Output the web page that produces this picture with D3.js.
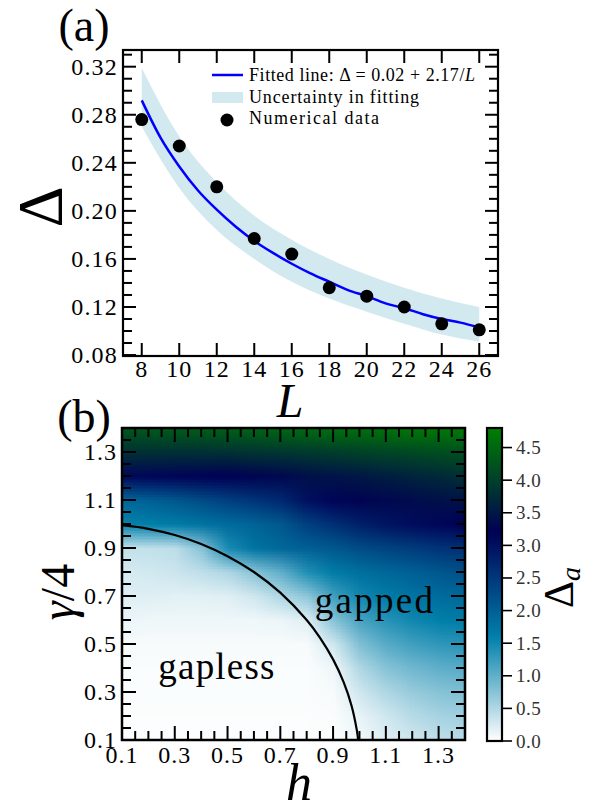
<!DOCTYPE html>
<html>
<head>
<meta charset="utf-8">
<script src="https://cdn.jsdelivr.net/npm/d3@7"></script>
<style>
  body { margin: 0; background: #fff; }
  text { font-family: "Liberation Serif", "DejaVu Serif", serif; fill: #000; }
</style>
</head>
<body>
<svg id="fig" width="600" height="812"></svg>
<script>
// ---------- panel (a) data ----------
const sizesL = [8, 10, 12, 14, 16, 18, 20, 22, 24, 26];
const gapNum = [0.276, 0.254, 0.220, 0.177, 0.164, 0.136, 0.129, 0.120, 0.106, 0.101];
const fitL = [8, 9, 10, 11, 12, 13, 14, 15, 16, 17, 18, 19, 20, 21, 22, 23, 24, 25, 26];
const fitVal = [0.292, 0.261, 0.237, 0.217, 0.201, 0.187, 0.175, 0.165, 0.156, 0.148,
                0.141, 0.134, 0.129, 0.123, 0.119, 0.114, 0.110, 0.107, 0.103];
const bandUpper = [0.319, 0.262, 0.224, 0.196, 0.176, 0.160, 0.147, 0.136, 0.127, 0.120];
const bandLower = [0.270, 0.219, 0.184, 0.160, 0.141, 0.127, 0.116, 0.106, 0.097, 0.091];
const xTicksA = [8, 10, 12, 14, 16, 18, 20, 22, 24, 26];
const yTicksA = [0.08, 0.12, 0.16, 0.20, 0.24, 0.28, 0.32];

// ---------- panel (b) data ----------
const hVals = [0.1, 0.2, 0.3, 0.4, 0.5, 0.6, 0.7, 0.8, 0.9, 1.0, 1.1, 1.2, 1.3, 1.4];
const gVals = [0.1, 0.2, 0.3, 0.4, 0.5, 0.6, 0.7, 0.8, 0.9, 1.0, 1.1, 1.2, 1.3, 1.4];
// rows follow gVals (bottom to top), columns follow hVals
const deltaA = [
  [0.02, 0.02, 0.02, 0.02, 0.02, 0.02, 0.02, 0.02, 0.02, 0.08, 0.20, 0.30, 0.40, 0.45],
  [0.02, 0.02, 0.02, 0.02, 0.02, 0.02, 0.02, 0.02, 0.03, 0.15, 0.30, 0.45, 0.55, 0.60],
  [0.03, 0.03, 0.03, 0.03, 0.03, 0.03, 0.03, 0.03, 0.05, 0.30, 0.50, 0.65, 0.75, 0.80],
  [0.03, 0.03, 0.03, 0.03, 0.03, 0.03, 0.03, 0.03, 0.10, 0.50, 0.75, 0.90, 1.00, 1.05],
  [0.05, 0.05, 0.05, 0.05, 0.05, 0.05, 0.05, 0.05, 0.30, 0.80, 1.05, 1.20, 1.30, 1.35],
  [0.12, 0.10, 0.10, 0.10, 0.10, 0.10, 0.12, 0.20, 0.75, 1.15, 1.35, 1.50, 1.60, 1.65],
  [0.20, 0.20, 0.18, 0.18, 0.20, 0.30, 0.50, 0.70, 1.20, 1.50, 1.65, 1.75, 1.85, 1.90],
  [0.25, 0.28, 0.32, 0.40, 0.50, 0.75, 1.00, 1.40, 1.65, 1.80, 1.90, 2.00, 2.10, 2.20],
  [0.38, 0.38, 0.42, 0.75, 1.45, 1.75, 1.90, 2.00, 2.10, 2.25, 2.35, 2.45, 2.55, 2.60],
  [1.55, 1.60, 1.65, 1.75, 1.85, 1.95, 2.10, 2.40, 2.60, 2.80, 2.95, 3.05, 3.12, 3.20],
  [1.90, 2.00, 2.10, 2.25, 2.40, 2.55, 2.70, 3.00, 3.15, 3.25, 3.30, 3.35, 3.40, 3.45],
  [3.10, 3.12, 3.15, 3.18, 3.20, 3.25, 3.30, 3.40, 3.45, 3.50, 3.58, 3.65, 3.72, 3.80],
  [3.80, 3.80, 3.80, 3.80, 3.82, 3.85, 3.88, 3.92, 3.97, 4.02, 4.07, 4.12, 4.17, 4.20],
  [4.30, 4.32, 4.35, 4.38, 4.40, 4.45, 4.50, 4.55, 4.60, 4.62, 4.65, 4.70, 4.72, 4.75]
];
// phase boundary between gapless and gapped
const boundaryH = [0.1, 0.2, 0.3, 0.4, 0.5, 0.6, 0.7, 0.8, 0.85, 0.9, 0.94, 0.97, 0.99, 0.995];
const boundaryG = [0.995, 0.98, 0.954, 0.917, 0.866, 0.8, 0.714, 0.6, 0.527, 0.436, 0.341, 0.243, 0.141, 0.1];
const ticksB = [0.1, 0.3, 0.5, 0.7, 0.9, 1.1, 1.3];
const cbTicks = [0.0, 0.5, 1.0, 1.5, 2.0, 2.5, 3.0, 3.5, 4.0, 4.5];

const svg = d3.select('#fig');
const bandColor = 'rgb(211,233,240)';

// inside ticks on all four sides of a box
function boxTicks(g, xs, ys, xMaj, xMin, yMaj, yMin, lenMaj, lenMin) {
  const [x0, x1] = xs.range();
  const [y0, y1] = ys.range(); // y0 bottom, y1 top
  const add = (vals, len, horiz) => {
    vals.forEach(v => {
      if (horiz) {
        const x = xs(v);
        g.append('line').attr('x1', x).attr('x2', x).attr('y1', y0).attr('y2', y0 - len);
        g.append('line').attr('x1', x).attr('x2', x).attr('y1', y1).attr('y2', y1 + len);
      } else {
        const y = ys(v);
        g.append('line').attr('x1', x0).attr('x2', x0 + len).attr('y1', y).attr('y2', y);
        g.append('line').attr('x1', x1).attr('x2', x1 - len).attr('y1', y).attr('y2', y);
      }
    });
  };
  add(xMaj, lenMaj, true); add(xMin, lenMin, true);
  add(yMaj, lenMaj, false); add(yMin, lenMin, false);
  g.selectAll('line').attr('stroke', '#000').attr('stroke-width', 2);
}

// ================= panel (a) =================
const xa = d3.scaleLinear().domain([7, 27]).range([123, 498]);
const ya = d3.scaleLinear().domain([0.0792, 0.3339]).range([356, 50]);

const pa = svg.append('g');
const band = sizesL.map((L, i) => ({ L, lo: bandLower[i], hi: bandUpper[i] }));
pa.append('path')
  .datum(band)
  .attr('d', d3.area().x(d => xa(d.L)).y0(d => ya(d.lo)).y1(d => ya(d.hi)).curve(d3.curveMonotoneX))
  .attr('fill', bandColor);

pa.append('path')
  .datum(fitL.map((L, i) => [L, fitVal[i]]))
  .attr('d', d3.line().x(d => xa(d[0])).y(d => ya(d[1])).curve(d3.curveMonotoneX))
  .attr('fill', 'none').attr('stroke', '#0000ff').attr('stroke-width', 2.5);

pa.selectAll('circle.pt')
  .data(sizesL.map((L, i) => [L, gapNum[i]]))
  .enter().append('circle')
  .attr('class', 'pt')
  .attr('cx', d => xa(d[0])).attr('cy', d => ya(d[1])).attr('r', 6.5)
  .attr('fill', '#000');

const yMinorA = d3.range(0.09, 0.335, 0.01).filter(v => yTicksA.every(t => Math.abs(t - v) > 1e-6));
boxTicks(pa.append('g'), xa, ya, xTicksA, [], yTicksA, yMinorA, 13, 9);

pa.append('rect').attr('x', 123).attr('y', 50).attr('width', 375).attr('height', 306)
  .attr('fill', 'none').attr('stroke', '#000').attr('stroke-width', 2.2);

pa.selectAll('text.yt').data(yTicksA).enter().append('text')
  .attr('x', 118).attr('y', d => ya(d) + 8)
  .attr('text-anchor', 'end').attr('font-size', 24).attr('letter-spacing', 1.2)
  .text(d => d.toFixed(2));
pa.selectAll('text.xt').data(xTicksA).enter().append('text')
  .attr('x', d => xa(d)).attr('y', 377)
  .attr('text-anchor', 'middle').attr('font-size', 24).attr('letter-spacing', 1)
  .text(d => d);

// legend
const lg = pa.append('g');
lg.append('line').attr('x1', 212).attr('x2', 243).attr('y1', 75).attr('y2', 75)
  .attr('stroke', '#0000ff').attr('stroke-width', 2.5);
lg.append('rect').attr('x', 212).attr('y', 92).attr('width', 31).attr('height', 11).attr('fill', bandColor);
lg.append('circle').attr('cx', 227).attr('cy', 120).attr('r', 6.5).attr('fill', '#000');
const legText = lg.append('g').attr('font-size', 18);
const t1 = legText.append('text').attr('x', 249).attr('y', 81)
  .attr('textLength', 226).attr('lengthAdjust', 'spacing');
t1.append('tspan').text('Fitted line: Δ = 0.02 + 2.17/');
t1.append('tspan').attr('font-style', 'italic').text('L');
legText.append('text').attr('x', 249).attr('y', 103)
  .attr('textLength', 170).attr('lengthAdjust', 'spacing').text('Uncertainty in fitting');
legText.append('text').attr('x', 249).attr('y', 124)
  .attr('textLength', 130).attr('lengthAdjust', 'spacing').text('Numerical data');

// labels
svg.append('text').attr('x', 84).attr('y', 41).attr('text-anchor', 'middle')
  .attr('font-size', 46).text('(a)');
svg.append('text').attr('transform', 'translate(62,207) rotate(-90)')
  .attr('text-anchor', 'middle').attr('font-size', 64).text('Δ');
svg.append('text').attr('x', 290).attr('y', 417).attr('text-anchor', 'middle')
  .attr('font-size', 48).attr('font-style', 'italic').text('L');

// ================= panel (b) =================
const xb = d3.scaleLinear().domain([0.1, 1.4]).range([122, 465]);
const yb = d3.scaleLinear().domain([0.1, 1.4]).range([740, 428]);

// matplotlib "ocean", reversed
function ocean(t) {
  const r = Math.max(0, Math.min(1, 3 * t - 2));
  const g = Math.min(1, Math.abs((3 * t - 1) / 2));
  return d3.rgb(r * 255, g * 255, t * 255).toString();
}
const color = d3.scaleSequential(t => ocean(1 - t)).domain([0, 4.8]);

const pb = svg.append('g');
svg.append('defs').append('clipPath').attr('id', 'clipB')
  .append('rect').attr('x', 122).attr('y', 428).attr('width', 343).attr('height', 312);

// one pixel per cell, smoothed on upscaling (like imshow bilinear)
const nx = hVals.length, ny = gVals.length;
const small = document.createElement('canvas');
small.width = nx; small.height = ny;
const sctx = small.getContext('2d');
const img = sctx.createImageData(nx, ny);
gVals.forEach((g, j) => hVals.forEach((h, i) => {
  const c = d3.rgb(color(deltaA[j][i]));
  const k = ((ny - 1 - j) * nx + i) * 4;
  img.data[k] = c.r; img.data[k + 1] = c.g; img.data[k + 2] = c.b; img.data[k + 3] = 255;
}));
sctx.putImageData(img, 0, 0);

const hStep = hVals[1] - hVals[0], gStep = gVals[1] - gVals[0];
const ix0 = xb(hVals[0] - hStep / 2), ix1 = xb(hVals[nx - 1] + hStep / 2);
const iy0 = yb(gVals[ny - 1] + gStep / 2), iy1 = yb(gVals[0] - gStep / 2);
const big = document.createElement('canvas');
big.width = Math.round(ix1 - ix0); big.height = Math.round(iy1 - iy0);
const bctx = big.getContext('2d');
bctx.imageSmoothingEnabled = true;
bctx.imageSmoothingQuality = 'low';
bctx.drawImage(small, 0, 0, big.width, big.height);

pb.append('image')
  .attr('href', big.toDataURL())
  .attr('x', ix0).attr('y', iy0).attr('width', ix1 - ix0).attr('height', iy1 - iy0)
  .attr('preserveAspectRatio', 'none')
  .attr('clip-path', 'url(#clipB)');

pb.append('path')
  .datum(boundaryH.map((h, i) => [h, boundaryG[i]]))
  .attr('d', d3.line().x(d => xb(d[0])).y(d => yb(d[1])).curve(d3.curveCatmullRom))
  .attr('fill', 'none').attr('stroke', '#000').attr('stroke-width', 2.2)
  .attr('clip-path', 'url(#clipB)');

const minorB = d3.range(0.15, 1.41, 0.05).filter(v => ticksB.every(t => Math.abs(t - v) > 1e-6));
boxTicks(pb.append('g'), xb, yb, ticksB, minorB, ticksB, minorB, 14, 9);

pb.append('rect').attr('x', 122).attr('y', 428).attr('width', 343).attr('height', 312)
  .attr('fill', 'none').attr('stroke', '#000').attr('stroke-width', 2.5);

pb.selectAll('text.yt').data(ticksB).enter().append('text')
  .attr('x', 117).attr('y', d => yb(d) + 8)
  .attr('text-anchor', 'end').attr('font-size', 24).attr('letter-spacing', 1)
  .text(d => d.toFixed(1));
pb.selectAll('text.xt').data(ticksB).enter().append('text')
  .attr('x', d => xb(d)).attr('y', 763)
  .attr('text-anchor', 'middle').attr('font-size', 24).attr('letter-spacing', 1)
  .text(d => d.toFixed(1));

pb.append('text').attr('x', 217).attr('y', 679).attr('text-anchor', 'middle')
  .attr('font-size', 37).attr('letter-spacing', 1.2).text('gapless');
pb.append('text').attr('x', 375).attr('y', 613).attr('text-anchor', 'middle')
  .attr('font-size', 37).attr('letter-spacing', 2.3).text('gapped');

svg.append('text').attr('x', 84).attr('y', 432).attr('text-anchor', 'middle')
  .attr('font-size', 46).text('(b)');
svg.append('text').attr('transform', 'translate(74,592) rotate(-90)')
  .attr('text-anchor', 'middle').attr('font-size', 48)
  .html('<tspan font-style="italic">γ</tspan>/4');
svg.append('text').attr('x', 299).attr('y', 800).attr('text-anchor', 'middle')
  .attr('font-size', 52).attr('font-style', 'italic').text('h');

// colorbar
const cy = d3.scaleLinear().domain([0, 4.8]).range([741, 428]);
const grad = svg.select('defs').append('linearGradient').attr('id', 'cbGrad')
  .attr('x1', 0).attr('x2', 0).attr('y1', 1).attr('y2', 0);
d3.range(0, 1.0001, 0.025).forEach(o => {
  grad.append('stop').attr('offset', o).attr('stop-color', color(o * 4.8));
});
const cb = svg.append('g');
cb.append('rect').attr('x', 487).attr('y', 428).attr('width', 15).attr('height', 313)
  .attr('fill', 'url(#cbGrad)').attr('stroke', '#000').attr('stroke-width', 2.2);
cb.selectAll('line.cbt').data(cbTicks).enter().append('line')
  .attr('x1', 502).attr('x2', 512).attr('y1', d => cy(d)).attr('y2', d => cy(d))
  .attr('stroke', '#000').attr('stroke-width', 1.6);
cb.selectAll('text.cbl').data(cbTicks).enter().append('text')
  .attr('x', 516).attr('y', d => cy(d) + 6.5)
  .attr('font-size', 19).attr('letter-spacing', 0.5).style('fill', '#333')
  .text(d => d.toFixed(1));
const cbl = cb.append('text').attr('transform', 'translate(573,608) rotate(-90)')
  .attr('font-size', 42);
cbl.append('tspan').text('Δ');
cbl.append('tspan').attr('font-size', 28).attr('font-style', 'italic').attr('dy', 7).text('a');
</script>
</body>
</html>
